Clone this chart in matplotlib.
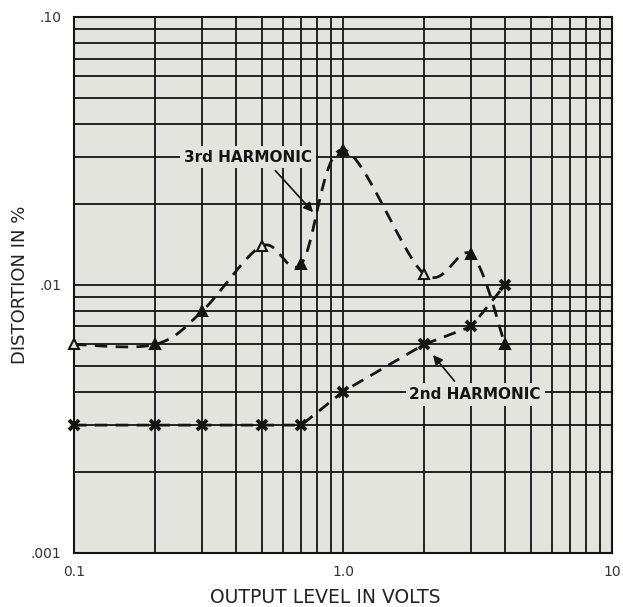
#!/usr/bin/env python3
"""Harmonic distortion vs output level - log/log graph-paper style."""
import numpy as np
import matplotlib
matplotlib.use('Agg')
import matplotlib.pyplot as plt
from matplotlib.ticker import LogLocator, NullFormatter, FixedLocator

# data
volts = [0.1, 0.2, 0.3, 0.5, 0.7, 1.0, 2.0, 3.0, 4.0]
third = [0.006, 0.006, 0.008, 0.014, 0.012, 0.032, 0.011, 0.013, 0.006]
second = [0.003, 0.003, 0.003, 0.003, 0.003, 0.004, 0.006, 0.007, 0.010]
third_hollow = [True, False, False, True, False, False, True, False, False]

x_ticks = [0.1, 1.0, 10]
x_labels = ['0.1', '1.0', '10']
y_ticks = [0.001, 0.01, 0.1]
y_labels = ['.001', '.01', '.10']

PAPER = '#e3e4de'
INK = '#141414'


def smooth(xs, ys, n=30):
    # Catmull-Rom through the points, done in log/log space
    px = np.log10(xs)
    py = np.log10(ys)
    px = np.concatenate([[px[0]], px, [px[-1]]])
    py = np.concatenate([[py[0]], py, [py[-1]]])
    t = np.linspace(0, 1, n)
    outx, outy = [], []
    for i in range(1, len(px) - 2):
        for arr, out in ((px, outx), (py, outy)):
            p0, p1, p2, p3 = arr[i - 1], arr[i], arr[i + 1], arr[i + 2]
            out.extend(0.5 * (2 * p1 + (-p0 + p2) * t
                              + (2 * p0 - 5 * p1 + 4 * p2 - p3) * t ** 2
                              + (-p0 + 3 * p1 - 3 * p2 + p3) * t ** 3))
    return 10 ** np.array(outx), 10 ** np.array(outy)


fig = plt.figure(figsize=(6.23, 6.07), dpi=100)
ax = fig.add_axes([0.1188, 0.089, 0.8636, 0.883])
ax.set_facecolor(PAPER)
ax.set_xscale('log')
ax.set_yscale('log')
ax.set_xlim(0.1, 10)
ax.set_ylim(0.001, 0.1)

ax.xaxis.set_major_locator(FixedLocator(x_ticks))
ax.yaxis.set_major_locator(FixedLocator(y_ticks))
ax.set_xticklabels(x_labels)
ax.set_yticklabels(y_labels)
for a in (ax.xaxis, ax.yaxis):
    a.set_minor_locator(LogLocator(base=10, subs=np.arange(2, 10)))
    a.set_minor_formatter(NullFormatter())
ax.tick_params(which='both', length=0, labelsize=10, labelcolor='#333')
ax.tick_params(axis='x', pad=9)
ax.tick_params(axis='y', pad=9)
ax.grid(True, which='both', color=INK, lw=1.3)
ax.set_axisbelow(True)
for s in ax.spines.values():
    s.set_color(INK)
    s.set_linewidth(1.5)

# 3rd harmonic: smooth dashed curve
sx, sy = smooth(volts, third)
ax.plot(sx, sy, color=INK, lw=2.0, ls=(0, (4.5, 3)), zorder=3)
for x, y, h in zip(volts, third, third_hollow):
    ax.plot(x, y, marker='^', ms=7, color=INK, mew=1.5,
            mfc=PAPER if h else INK, zorder=4, clip_on=False)

# 2nd harmonic
ax.plot(volts, second, color=INK, lw=2.0, ls=(0, (4.5, 3)), zorder=3)
ax.plot(volts, second, ls='none', marker='x', ms=6.5, mew=2.8,
        color=INK, zorder=4, clip_on=False)

box = dict(boxstyle='square,pad=0.25', fc=PAPER, ec='none')
ax.annotate('3rd HARMONIC', xy=(0.774, 0.0187), xytext=(0.444, 0.03),
            ha='center', va='center', fontsize=11, fontweight='bold',
            color=INK, bbox=box, zorder=5,
            arrowprops=dict(arrowstyle='-|>', color=INK, lw=1.2,
                            mutation_scale=14, shrinkA=2, shrinkB=0,
                            relpos=(0.67, 0)))
ax.annotate('2nd HARMONIC', xy=(2.16, 0.00548), xytext=(3.1, 0.0039),
            ha='center', va='center', fontsize=11, fontweight='bold',
            color=INK, bbox=box, zorder=5,
            arrowprops=dict(arrowstyle='-|>', color=INK, lw=1.2,
                            mutation_scale=14, shrinkA=2, shrinkB=0,
                            relpos=(0.38, 1)))

fig.text(0.522, 0.016, 'OUTPUT LEVEL IN VOLTS', ha='center', va='center',
         fontsize=13.5, color='#222')
fig.text(0.032, 0.53, 'DISTORTION IN %', ha='center', va='center',
         rotation=90, fontsize=13, color='#222')

plt.savefig('out.png', dpi=100, facecolor='white')
print("wrote out.png")
